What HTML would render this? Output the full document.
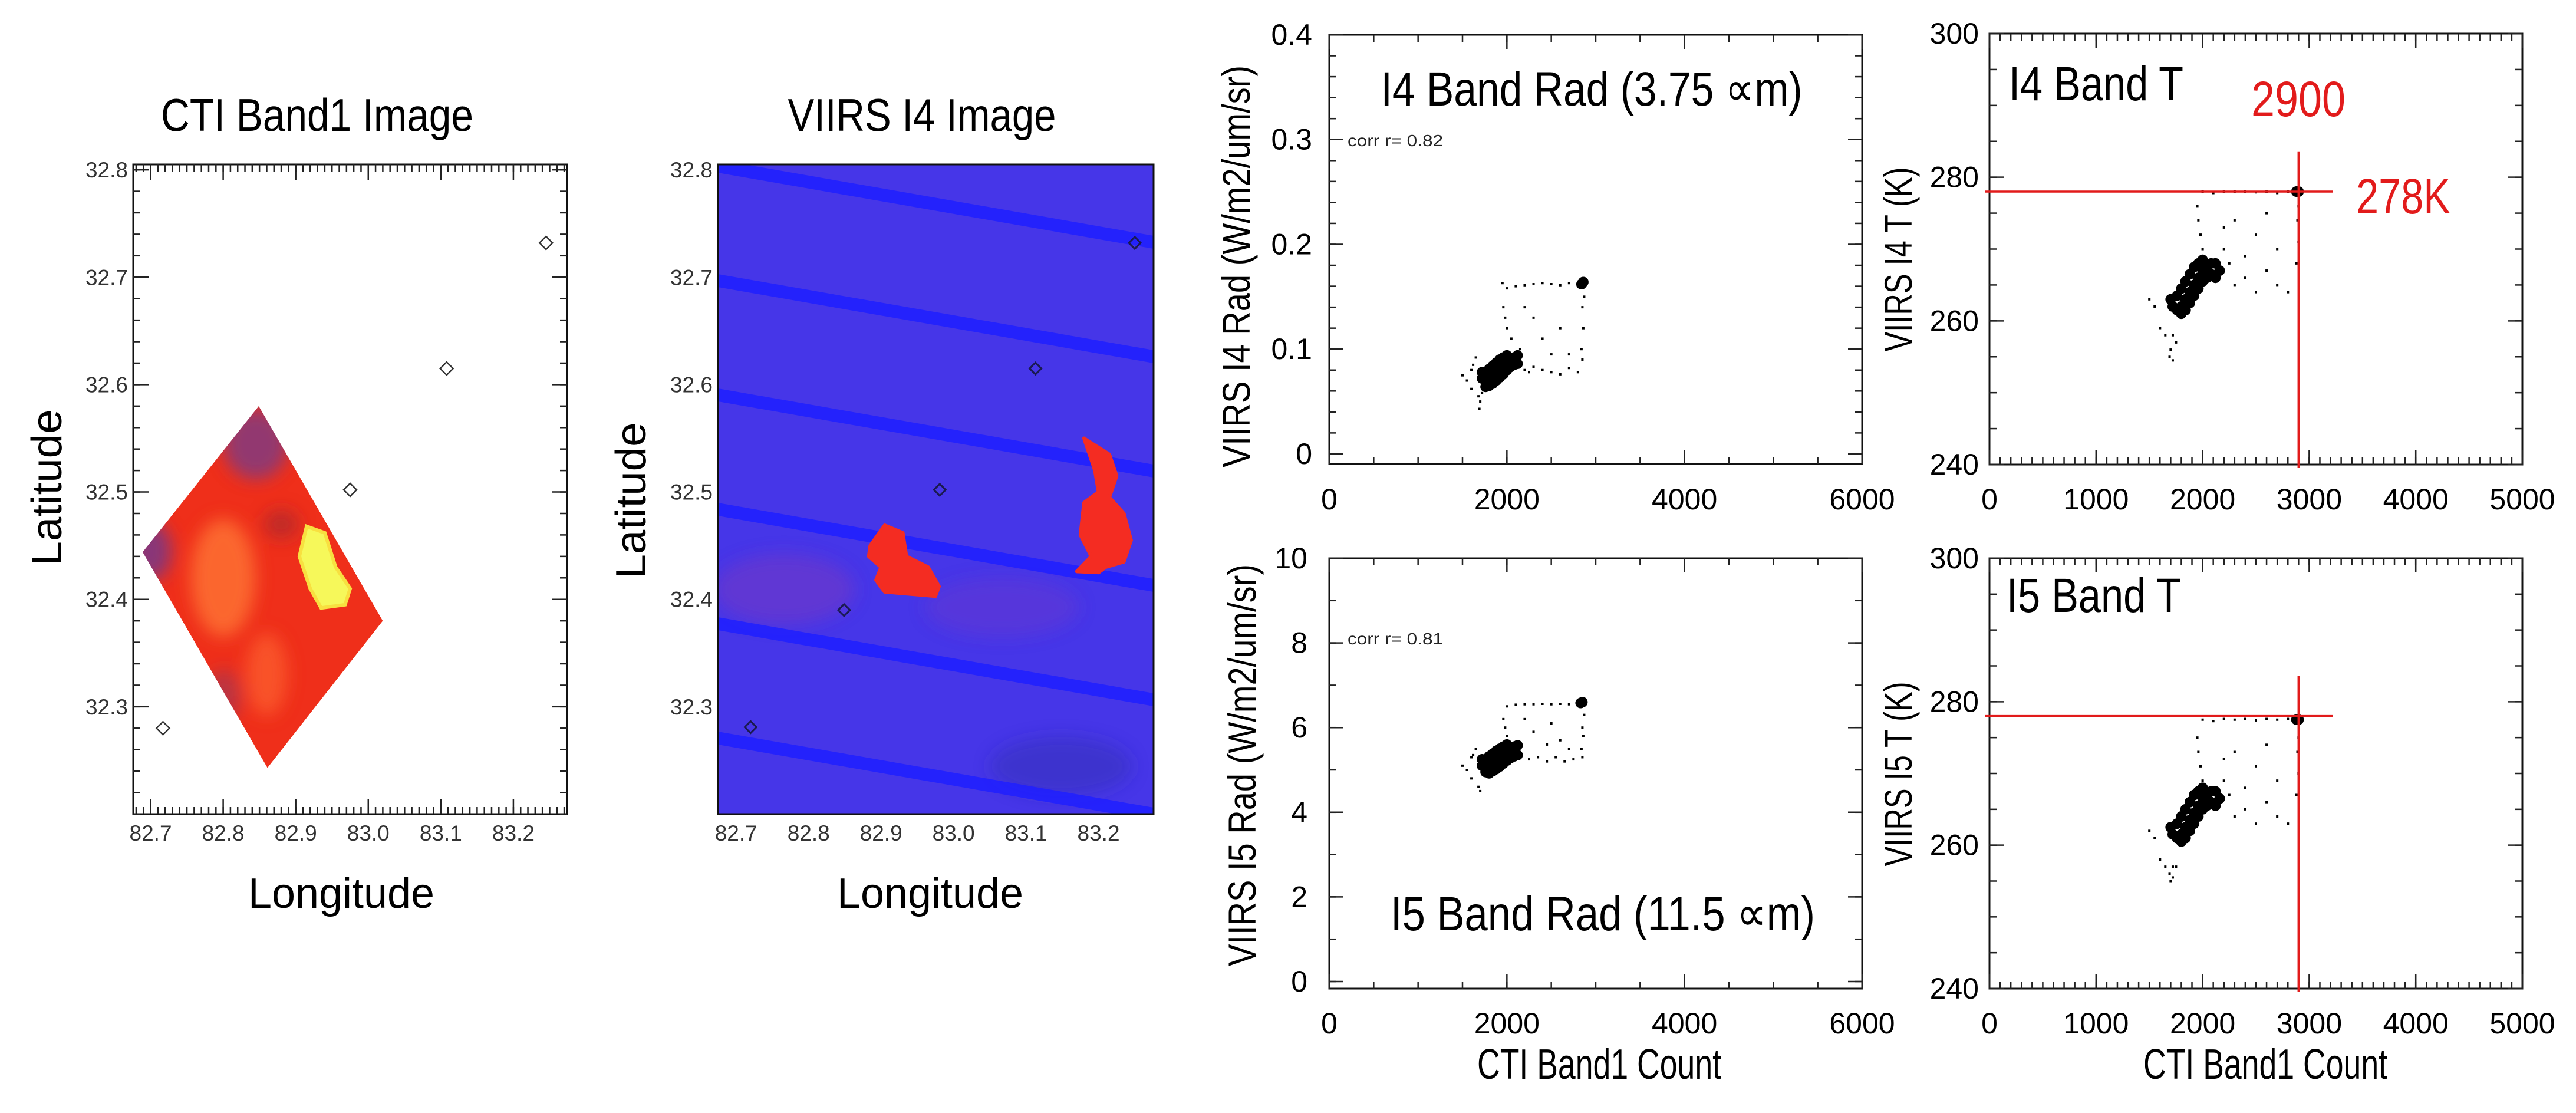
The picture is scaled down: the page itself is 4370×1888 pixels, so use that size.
<!DOCTYPE html>
<html><head><meta charset="utf-8"><style>
html,body{margin:0;padding:0;background:#fff;}
svg{display:block;}
.cal{font-family:"Liberation Sans Narrow","Liberation Sans",sans-serif;}
.hel{font-family:"Liberation Sans",sans-serif;}
</style></head><body>
<svg id="fig" xmlns="http://www.w3.org/2000/svg" width="4370" height="1888" viewBox="0 0 4370 1888">
<defs>
<clipPath id="clipP1"><rect x="226" y="279" width="736" height="1102"/></clipPath>
<clipPath id="clipP2"><rect x="1218" y="279" width="739" height="1102"/></clipPath>
<clipPath id="clipDiamond"><polygon id="diamondClipPoly" points=""/></clipPath>
<filter id="blur6"><feGaussianBlur stdDeviation="14"/></filter>
</defs>
<g id="root"></g>
</svg>
<script>
// ---------- DATA ----------
const diamondLon = [82.849, 83.020, 82.861, 82.689];
const diamondLat = [32.580, 32.380, 32.243, 32.444];
const yellowLon = [82.915, 82.94, 82.955, 82.975, 82.968, 82.935, 82.92, 82.905];
const yellowLat = [32.468, 32.462, 32.43, 32.41, 32.395, 32.392, 32.41, 32.44];
const stationLon = [83.245, 83.108, 82.975, 82.717];
const stationLat = [32.732, 32.615, 32.502, 32.280];
const viirsMarkLon = [83.250, 83.113, 82.981, 82.849, 82.720];
const viirsMarkLat = [32.732, 32.615, 32.502, 32.390, 32.281];
const fireALon = [82.885, 82.905, 82.93, 82.935, 82.965, 82.98, 82.975, 82.94, 82.905, 82.893, 82.9, 82.883];
const fireALat = [32.45, 32.469, 32.462, 32.44, 32.43, 32.412, 32.403, 32.405, 32.407, 32.418, 32.43, 32.44];
const fireBLon = [83.18, 83.215, 83.225, 83.215, 83.235, 83.245, 83.235, 83.21, 83.2, 83.17, 83.19, 83.175, 83.18, 83.2, 83.195];
const fireBLat = [32.55, 32.535, 32.515, 32.495, 32.48, 32.455, 32.435, 32.43, 32.425, 32.426, 32.44, 32.46, 32.49, 32.5, 32.52];
const lonTicks = [82.7, 82.8, 82.9, 83.0, 83.1, 83.2];
const lonTickLabels = ["82.7", "82.8", "82.9", "83.0", "83.1", "83.2"];
const latTicks = [32.3, 32.4, 32.5, 32.6, 32.7, 32.8];
const latTickLabels = ["32.3", "32.4", "32.5", "32.6", "32.7", "32.8"];

const core3X = [1720,1760,1800,1840,1880,1920,1960,2000,2040,2080,2120,1760,1800,1840,1880,1920,1960,2000,1800,1840,1880,1920,1960,2000,2040,2080,2120,1720,1760,2860,2840];
const core3Y = [0.072,0.070,0.072,0.075,0.078,0.081,0.084,0.088,0.090,0.092,0.094,0.078,0.081,0.084,0.087,0.090,0.092,0.094,0.065,0.067,0.070,0.073,0.076,0.080,0.083,0.085,0.086,0.078,0.064,0.164,0.162];
const sparse3X = [1500,1550,1600,1620,1680,1700,1690,1720,2150,2150,2200,2250,2300,2400,2500,2600,2700,2800,2850,2840,2860,2850,2870,2800,2700,2600,2500,2400,2300,2200,2100,2000,1950,1960,1980,2000,2050,2300,2400,2600,2700,2500,2200,1650,1600];
const sparse3Y = [0.075,0.070,0.062,0.085,0.055,0.050,0.043,0.058,0.100,0.085,0.080,0.078,0.083,0.080,0.078,0.076,0.082,0.078,0.090,0.100,0.120,0.140,0.150,0.162,0.163,0.161,0.162,0.163,0.162,0.161,0.160,0.158,0.163,0.140,0.130,0.120,0.110,0.130,0.110,0.120,0.095,0.095,0.140,0.092,0.080];
const core5X = [1720,1760,1800,1840,1880,1920,1960,2000,2040,2080,2120,1760,1800,1840,1880,1920,1960,2000,1800,1840,1880,1920,1960,2000,2040,2080,2120,1720,1760,2850,2830];
const core5Y = [5.10,5.05,5.10,5.18,5.25,5.32,5.38,5.45,5.50,5.55,5.58,5.25,5.32,5.38,5.45,5.50,5.55,5.60,4.92,4.97,5.02,5.08,5.15,5.22,5.28,5.32,5.35,5.25,4.95,6.60,6.58];
const sparse5X = [1500,1550,1600,1680,1700,1620,2150,2150,2250,2350,2450,2550,2650,2750,2850,2840,2860,2850,2870,2800,2700,2600,2500,2400,2300,2200,2100,2000,1960,1980,2000,2300,2500,2600,2700,2450,2200,1650,1600];
const sparse5Y = [5.10,5.00,4.80,4.60,4.50,5.35,5.60,5.30,5.25,5.30,5.20,5.30,5.20,5.25,5.30,5.50,5.80,6.00,6.30,6.55,6.55,6.56,6.55,6.56,6.55,6.55,6.54,6.50,6.20,6.00,5.80,5.90,6.10,5.70,5.50,5.60,6.20,5.50,5.30];
const core4X = [1720,1760,1800,1840,1880,1920,1960,2000,2040,2080,2120,1760,1800,1840,1880,1920,1960,2000,1800,1840,1880,1920,1960,2000,2040,2080,2120,2160,1700,2900,2880];
const core4Y = [262,261.5,262,263,264,265,266,267,267.5,268,268,263.5,264.5,265.5,266.5,267.5,268,268.5,261,261.5,262.5,263.5,264.5,265.5,266,266.5,266,267,263,278,278];
const sparse4X = [1550,1500,1600,1650,1700,1690,1720,2200,2250,2300,2400,2500,2600,2700,2800,2880,2900,2890,2900,2800,2700,2600,2500,2400,2300,2200,2100,2000,1950,1960,1980,2000,2300,2500,2700,2600,2200,2400,1720,1750];
const sparse4Y = [262,263,259,258,256,255,258,270,268,265,266,264,267,265,264,268,271,274,276,278,277.8,278,277.9,278,278,278,277.8,278,276,274,272,270,274,272,270,275,273,269,254.5,257];
const core6X = [1720,1760,1800,1840,1880,1920,1960,2000,2040,2080,2120,1760,1800,1840,1880,1920,1960,2000,1800,1840,1880,1920,1960,2000,2040,2080,2120,2160,1700,2900,2880];
const core6Y = [261.5,261,261.5,262.5,263.5,264.5,265.5,266.5,267,267.5,267.5,263,264,265,266,267,267.5,268,260.5,261,262,263,264,265,265.5,266,265.5,266.5,262.5,277.5,277.5];
const sparse6X = [1550,1500,1600,1650,1700,1690,1720,2200,2250,2300,2400,2500,2600,2700,2800,2880,2900,2890,2900,2800,2700,2600,2500,2400,2300,2200,2100,2000,1950,1960,1980,2000,2300,2500,2700,2600,2200,2400,1720,1750];
const sparse6Y = [261,262,258,257,255,256,257,269,267,264,265,263,266,264,263,267,270,273,275,277.6,277.5,277.6,277.4,277.6,277.5,277.6,277.3,277.5,275,273,271,269,273,271,269,274,272,268,255.5,257];

const radXTicks = [0, 2000, 4000, 6000];
const radXLabels = ["0", "2000", "4000", "6000"];
const rad4YTicks = [0, 0.1, 0.2, 0.3, 0.4];
const rad4YLabels = ["0", "0.1", "0.2", "0.3", "0.4"];
const rad5YTicks = [0, 2, 4, 6, 8, 10];
const rad5YLabels = ["0", "2", "4", "6", "8", "10"];
const tXTicks = [0, 1000, 2000, 3000, 4000, 5000];
const tXLabels = ["0", "1000", "2000", "3000", "4000", "5000"];
const tYTicks = [240, 260, 280, 300];
const tYLabels = ["240", "260", "280", "300"];
const thresholdCount = [2900];
const thresholdTemp = [278];

// ---------- HELPERS ----------
const NS = "http://www.w3.org/2000/svg";
const root = document.getElementById("root");
function mk(tag, attrs, parent) {
  const e = document.createElementNS(NS, tag);
  for (const k in attrs) e.setAttribute(k, attrs[k]);
  (parent || root).appendChild(e);
  return e;
}
function txt(str, attrs, parent) {
  const e = mk("text", attrs, parent);
  e.textContent = str;
  return e;
}
function lin(d0, d1, r0, r1) { return v => r0 + (v - d0) / (d1 - d0) * (r1 - r0); }

function frame(P, name) {
  const r = mk("rect", {x: P.x0, y: P.y0, width: P.x1 - P.x0, height: P.y1 - P.y0, fill: "none", stroke: "#111", "stroke-width": 3});
  
  
}
function ticks(P, axis, start, end, step, len, name) {
  const g = mk("g", {stroke: "#222", "stroke-width": 2.5});
  
  
  const n = Math.round((end - start) / step);
  for (let i = 0; i <= n; i++) {
    const v = start + i * step;
    if (axis === "x") {
      const x = P.sx(v);
      if (x < P.x0 - 0.5 || x > P.x1 + 0.5) continue;
      mk("line", {x1: x, x2: x, y1: P.y1, y2: P.y1 - len}, g);
      mk("line", {x1: x, x2: x, y1: P.y0, y2: P.y0 + len}, g);
    } else {
      const y = P.sy(v);
      if (y < P.y0 - 0.5 || y > P.y1 + 0.5) continue;
      mk("line", {x1: P.x0, x2: P.x0 + len, y1: y, y2: y}, g);
      mk("line", {x1: P.x1, x2: P.x1 - len, y1: y, y2: y}, g);
    }
  }
}

// ---------- PANEL 1 ----------
const P1 = {x0: 226, x1: 962, y0: 279, y1: 1381};
P1.sx = lin(82.676, 83.274, P1.x0, P1.x1);
P1.sy = lin(32.2, 32.805, P1.y1, P1.y0);
const t1 = txt("CTI Band1 Image", {x: 538, y: 222, "font-size": 78, "text-anchor": "middle", class: "cal", textLength: 530, lengthAdjust: "spacingAndGlyphs"});


const dpts = diamondLon.map((v, i) => P1.sx(v) + "," + P1.sy(diamondLat[i])).join(" ");
document.getElementById("diamondClipPoly").setAttribute("points", dpts);
const img1 = mk("g", {"clip-path": "url(#clipDiamond)"});


mk("polygon", {points: dpts, fill: "#ef2f1a"}, img1);
const blurG = mk("g", {filter: "url(#blur6)"}, img1);
mk("ellipse", {cx: P1.sx(82.845), cy: P1.sy(32.545), rx: 55, ry: 60, fill: "#7b3b86", opacity: 0.8}, blurG);
mk("ellipse", {cx: P1.sx(82.70), cy: P1.sy(32.445), rx: 35, ry: 50, fill: "#6e3a90", opacity: 0.8}, blurG);
mk("ellipse", {cx: P1.sx(82.80), cy: P1.sy(32.42), rx: 55, ry: 100, fill: "#ff7a35", opacity: 0.75}, blurG);
mk("ellipse", {cx: P1.sx(82.86), cy: P1.sy(32.33), rx: 35, ry: 70, fill: "#ff6a30", opacity: 0.6}, blurG);
mk("ellipse", {cx: P1.sx(82.80), cy: P1.sy(32.31), rx: 30, ry: 45, fill: "#8a3a6a", opacity: 0.5}, blurG);
mk("ellipse", {cx: P1.sx(82.88), cy: P1.sy(32.47), rx: 30, ry: 25, fill: "#a02a30", opacity: 0.6}, blurG);
mk("polygon", {points: yellowLon.map((v, i) => P1.sx(v) + "," + P1.sy(yellowLat[i])).join(" "), fill: "#f6f85a", stroke: "#f8e040", "stroke-width": 6}, img1);
const st1 = mk("g", {fill: "none", stroke: "#333", "stroke-width": 2.5});


stationLon.forEach((v, i) => {
  const x = P1.sx(v), y = P1.sy(stationLat[i]);
  const m = mk("polygon", {points: `${x},${y - 11} ${x + 11},${y} ${x},${y + 11} ${x - 11},${y}`}, st1);
  
  
});
frame(P1, "cti-image");
ticks(P1, "x", 82.68, 83.27, 0.01, 12, "cti-x-minor-ticks");
ticks(P1, "x", 82.7, 83.2, 0.1, 26, "cti-x-major-ticks");
ticks(P1, "y", 32.2, 32.8, 0.02, 12, "cti-y-minor-ticks");
ticks(P1, "y", 32.3, 32.8, 0.1, 26, "cti-y-major-ticks");

function mapLabels(P, prefix) {
  lonTicks.forEach((v, i) => {
    const t = txt(lonTickLabels[i], {x: P.sx(v), y: 1426, "font-size": 37, "text-anchor": "middle", fill: "#333", class: "hel"});
    
    
  });
  latTicks.forEach((v, i) => {
    const t = txt(latTickLabels[i], {x: P.x0 - 9, y: P.sy(v) + 13, "font-size": 37, "text-anchor": "end", fill: "#333", class: "hel"});
    
    
  });
}
mapLabels(P1, "cti");
const la1 = txt("Latitude", {x: 0, y: 0, "font-size": 72, "text-anchor": "middle", class: "cal", transform: "translate(104,827) rotate(-90)", textLength: 265, lengthAdjust: "spacingAndGlyphs"});


const lo1 = txt("Longitude", {x: 579, y: 1540, "font-size": 72, "text-anchor": "middle", class: "cal", textLength: 316, lengthAdjust: "spacingAndGlyphs"});



// ---------- PANEL 2 ----------
const P2 = {x0: 1218, x1: 1957, y0: 279, y1: 1381};
P2.sx = lin(82.675, 83.276, P2.x0, P2.x1);
P2.sy = lin(32.2, 32.805, P2.y1, P2.y0);
const t2 = txt("VIIRS I4 Image", {x: 1564, y: 222, "font-size": 78, "text-anchor": "middle", class: "cal", textLength: 455, lengthAdjust: "spacingAndGlyphs"});


const img2 = mk("g", {"clip-path": "url(#clipP2)"});


mk("rect", {x: P2.x0, y: P2.y0, width: 739, height: 1102, fill: "#4636e8"}, img2);
const blur2 = mk("g", {filter: "url(#blur6)"}, img2);
mk("ellipse", {cx: 1330, cy: 1000, rx: 120, ry: 60, fill: "#7a3ac0", opacity: 0.5}, blur2);
mk("ellipse", {cx: 1700, cy: 1030, rx: 130, ry: 50, fill: "#6e3ac8", opacity: 0.4}, blur2);
mk("ellipse", {cx: 1800, cy: 1300, rx: 120, ry: 50, fill: "#3030a8", opacity: 0.4}, blur2);
[282, 476, 670, 864, 1058, 1252].forEach(y0 => {
  const s = mk("polygon", {points: `${P2.x0},${y0 - 11} ${P2.x1},${y0 + 118} ${P2.x1},${y0 + 140} ${P2.x0},${y0 + 11}`, fill: "#1e1eff", opacity: 0.85}, img2);
  
  
});
[[fireALon, fireALat], [fireBLon, fireBLat]].forEach(f => {
  const b = mk("polygon", {points: f[0].map((v, i) => P2.sx(v) + "," + P2.sy(f[1][i])).join(" "), fill: "#f42c22", stroke: "#f42c22", "stroke-width": 6, "stroke-linejoin": "round"}, img2);
  
  
});
const st2 = mk("g", {fill: "none", stroke: "#1a1a50", "stroke-width": 3});


viirsMarkLon.forEach((v, i) => {
  const x = P2.sx(v), y = P2.sy(viirsMarkLat[i]);
  const m = mk("polygon", {points: `${x},${y - 10} ${x + 10},${y} ${x},${y + 10} ${x - 10},${y}`}, st2);
  
  
});
frame(P2, "viirs-image");
mapLabels(P2, "viirs");
const la2 = txt("Latitude", {x: 0, y: 0, "font-size": 72, "text-anchor": "middle", class: "cal", transform: "translate(1095,849) rotate(-90)", textLength: 265, lengthAdjust: "spacingAndGlyphs"});


const lo2 = txt("Longitude", {x: 1578, y: 1540, "font-size": 72, "text-anchor": "middle", class: "cal", textLength: 316, lengthAdjust: "spacingAndGlyphs"});



// ---------- SCATTER PANELS ----------
function scatterPanel(cfg) {
  const P = cfg.P;
  P.sx = lin(cfg.xd[0], cfg.xd[1], P.x0, P.x1);
  P.sy = lin(cfg.yd[0], cfg.yd[1], P.y1, P.y0);
  const g = mk("g", {});
  
  
  cfg.cx.forEach((v, i) => {
    const c = mk("circle", {cx: P.sx(v), cy: P.sy(cfg.cy[i]), r: 9, fill: "#000"}, g);
    
    
  });
  cfg.px.forEach((v, i) => {
    const c = mk("rect", {x: P.sx(v) - 2, y: P.sy(cfg.py[i]) - 2, width: 4, height: 4, fill: "#000"}, g);
    
    
  });
  frame(P, cfg.name);
  ticks(P, "x", cfg.xd[0] < 0 ? 0 : cfg.xd[0], cfg.xd[1], cfg.xminor, 12, cfg.name + "-x-minor-ticks");
  ticks(P, "x", cfg.xt[0], cfg.xt[cfg.xt.length - 1], cfg.xt[1] - cfg.xt[0], 24, cfg.name + "-x-major-ticks");
  ticks(P, "y", cfg.yt[0], cfg.yt[cfg.yt.length - 1], cfg.yminor, 12, cfg.name + "-y-minor-ticks");
  ticks(P, "y", cfg.yt[0], cfg.yt[cfg.yt.length - 1], cfg.yt[1] - cfg.yt[0], 24, cfg.name + "-y-major-ticks");
  cfg.xt.forEach((v, i) => {
    const t = txt(cfg.xl[i], {x: P.sx(v), y: cfg.xlY, "font-size": 50, "text-anchor": "middle", class: "cal"});
    
    
  });
  cfg.yt.forEach((v, i) => {
    const t = txt(cfg.yl[i], {x: cfg.ylX, y: P.sy(v) + 17, "font-size": 50, "text-anchor": "end", class: "cal"});
    
    
  });
  const yt = txt(cfg.ytitle, {x: 0, y: 0, "font-size": 66, "text-anchor": "middle", class: "cal", transform: `translate(${cfg.ytX},${cfg.ytY}) rotate(-90)`, textLength: cfg.ytLen, lengthAdjust: "spacingAndGlyphs"});
  
  
  return P;
}

const P3 = scatterPanel({P: {x0: 2255, x1: 3159, y0: 59, y1: 787}, name: "i4-rad", xd: [0, 6000], yd: [-0.0096, 0.4],
  cx: core3X, cy: core3Y, px: sparse3X, py: sparse3Y, xt: radXTicks, xl: radXLabels, yt: rad4YTicks, yl: rad4YLabels,
  xminor: 500, yminor: 0.02, xlY: 864, ylX: 2226, ytitle: "VIIRS I4 Rad (W/m2/um/sr)", ytX: 2120, ytY: 452, ytLen: 682});
const P5 = scatterPanel({P: {x0: 2255, x1: 3159, y0: 947, y1: 1677}, name: "i5-rad", xd: [0, 6000], yd: [-0.167, 10],
  cx: core5X, cy: core5Y, px: sparse5X, py: sparse5Y, xt: radXTicks, xl: radXLabels, yt: rad5YTicks, yl: rad5YLabels,
  xminor: 500, yminor: 1, xlY: 1753, ylX: 2218, ytitle: "VIIRS I5 Rad (W/m2/um/sr)", ytX: 2130, ytY: 1298, ytLen: 682});
const P4 = scatterPanel({P: {x0: 3375, x1: 4279, y0: 57, y1: 788}, name: "i4-temp", xd: [0, 5000], yd: [240, 300],
  cx: core4X, cy: core4Y, px: sparse4X, py: sparse4Y, xt: tXTicks, xl: tXLabels, yt: tYTicks, yl: tYLabels,
  xminor: 100, yminor: 5, xlY: 864, ylX: 3357, ytitle: "VIIRS I4 T (K)", ytX: 3243, ytY: 440, ytLen: 313});
const P6 = scatterPanel({P: {x0: 3375, x1: 4279, y0: 947, y1: 1677}, name: "i5-temp", xd: [0, 5000], yd: [240, 300],
  cx: core6X, cy: core6Y, px: sparse6X, py: sparse6Y, xt: tXTicks, xl: tXLabels, yt: tYTicks, yl: tYLabels,
  xminor: 100, yminor: 5, xlY: 1753, ylX: 3357, ytitle: "VIIRS I5 T (K)", ytX: 3243, ytY: 1313, ytLen: 313});

[[P4, "i4"], [P6, "i5"]].forEach(([P, n]) => {
  const h = mk("line", {x1: P.x0 - 8, x2: P.sx(3220), y1: P.sy(thresholdTemp[0]), y2: P.sy(thresholdTemp[0]), stroke: "#e21b1b", "stroke-width": 3.5});
  
  
  const v = mk("line", {x1: P.sx(thresholdCount[0]), x2: P.sx(thresholdCount[0]), y1: P.sy(283.6), y2: P.y1 + 6, stroke: "#e21b1b", "stroke-width": 3.5});
  
  
});

function label(str, attrs, name) {
  const t = txt(str, attrs);
  
  
}
label("I4 Band Rad (3.75 \u221Dm)", {x: 2700, y: 179, "font-size": 82, "text-anchor": "middle", class: "cal", textLength: 715, lengthAdjust: "spacingAndGlyphs"}, "i4-rad-title");
label("corr r= 0.82", {x: 2286, y: 248, "font-size": 28, class: "hel", fill: "#222", textLength: 162, lengthAdjust: "spacingAndGlyphs"}, "i4-corr-label");
label("I5 Band Rad (11.5 \u221Dm)", {x: 2719, y: 1578, "font-size": 82, "text-anchor": "middle", class: "cal", textLength: 720, lengthAdjust: "spacingAndGlyphs"}, "i5-rad-title");
label("corr r= 0.81", {x: 2286, y: 1093, "font-size": 28, class: "hel", fill: "#222", textLength: 162, lengthAdjust: "spacingAndGlyphs"}, "i5-corr-label");
label("I4 Band T", {x: 3408, y: 170, "font-size": 82, class: "cal", textLength: 296, lengthAdjust: "spacingAndGlyphs"}, "i4-temp-title");
label("I5 Band T", {x: 3404, y: 1038, "font-size": 82, class: "cal", textLength: 296, lengthAdjust: "spacingAndGlyphs"}, "i5-temp-title");
label("2900", {x: 3899, y: 197, "font-size": 84, "text-anchor": "middle", class: "cal", fill: "#e21b1b", textLength: 160, lengthAdjust: "spacingAndGlyphs"}, "count-threshold-label");
label("278K", {x: 4077, y: 362, "font-size": 84, "text-anchor": "middle", class: "cal", fill: "#e21b1b", textLength: 160, lengthAdjust: "spacingAndGlyphs"}, "temp-threshold-label");
label("CTI Band1 Count", {x: 2713, y: 1830, "font-size": 72, "text-anchor": "middle", class: "cal", textLength: 414, lengthAdjust: "spacingAndGlyphs"}, "i5-rad-x-axis-title");
label("CTI Band1 Count", {x: 3843, y: 1830, "font-size": 72, "text-anchor": "middle", class: "cal", textLength: 414, lengthAdjust: "spacingAndGlyphs"}, "i5-temp-x-axis-title");
</script>
</body></html>
